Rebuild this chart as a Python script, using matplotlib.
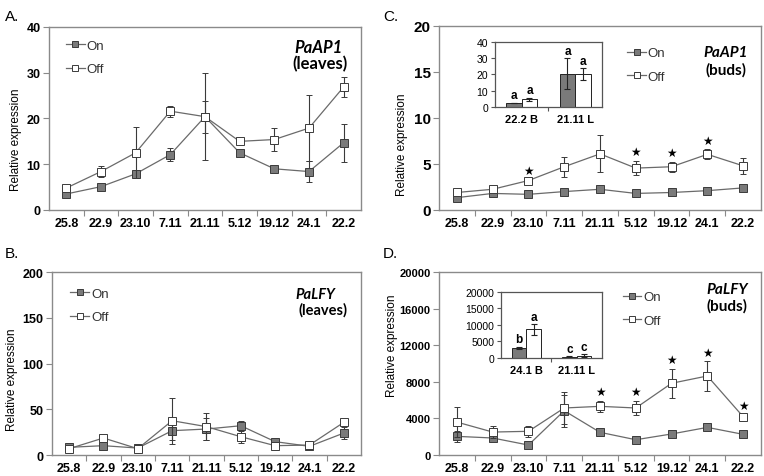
import numpy as np
import matplotlib
matplotlib.use("Agg")
import matplotlib.pyplot as plt
from matplotlib.lines import Line2D

plt.rcParams['font.family'] = ['Liberation Sans', 'DejaVu Sans']

dates = ['25.8', '22.9', '23.10', '7.11', '21.11', '5.12', '19.12', '24.1', '22.2']

# A. PaAP1 leaves
ap1_leaf_on = [3.5, 5.1, 7.9, 12.1, 20.4, 12.5, 9.0, 8.4, 14.7]
ap1_leaf_on_err = [0.3, 0.3, 0.5, 1.5, 9.5, 0.4, 0.4, 2.2, 4.2]
ap1_leaf_off = [4.8, 8.4, 12.5, 21.6, 20.4, 15.0, 15.4, 17.9, 26.9]
ap1_leaf_off_err = [0.3, 1.3, 5.6, 1.2, 3.5, 0.4, 2.6, 7.2, 2.2]

# B. PaLFY leaves
lfy_leaf_on = [8.4, 10.2, 7.6, 26.6, 28.4, 32.0, 14.6, 9.5, 24.0]
lfy_leaf_on_err = [2, 2, 1.5, 10, 12, 5.5, 2, 1.5, 7]
lfy_leaf_off = [6.9, 18.6, 6.9, 37.5, 31.0, 20.0, 10.2, 10.9, 35.7]
lfy_leaf_off_err = [1.5, 2, 1.5, 25, 14.5, 7, 2, 2, 2]

# C. PaAP1 buds
ap1_bud_on = [1.34, 1.8, 1.7, 2.0, 2.25, 1.8, 1.9, 2.1, 2.4]
ap1_bud_on_err = [0.1, 0.1, 0.1, 0.1, 0.2, 0.1, 0.1, 0.1, 0.1]
ap1_bud_off = [1.9, 2.25, 3.2, 4.7, 6.1, 4.55, 4.7, 6.05, 4.8]
ap1_bud_off_err = [0.1, 0.1, 0.1, 1.1, 2.0, 0.75, 0.55, 0.55, 0.9]
ap1_bud_stars = [2, 5, 6, 7]

# D. PaLFY buds
lfy_bud_on = [2040, 1860, 1090, 4840, 2480, 1670, 2300, 3020, 2260]
lfy_bud_on_err = [600, 150, 150, 1750, 150, 150, 200, 300, 150]
lfy_bud_off = [3600, 2510, 2590, 5140, 5320, 5140, 7840, 8640, 4190]
lfy_bud_off_err = [1670, 700, 600, 1700, 600, 800, 1600, 1600, 200]
lfy_bud_stars = [4, 5, 6, 7, 8]

# insets
inset_c_groups = ['22.2 B', '21.11 L']
inset_c_on = [2.4, 20.4]
inset_c_on_err = [0.2, 9.5]
inset_c_off = [4.8, 20.4]
inset_c_off_err = [0.9, 3.5]
inset_c_letters_on = ['a', 'a']
inset_c_letters_off = ['a', 'a']

inset_d_groups = ['24.1 B', '21.11 L']
inset_d_on = [3020, 450]
inset_d_on_err = [400, 100]
inset_d_off = [8640, 700]
inset_d_off_err = [1600, 400]
inset_d_letters_on = ['b', 'c']
inset_d_letters_off = ['a', 'c']

on_c = '#7a7a7a'
edge_c = '#3a3a3a'
line_c = '#6a6a6a'
frame_c = '#8a8a8a'

fig = plt.figure(figsize=(7.64, 4.77), dpi=100)

legend_handles = [
    Line2D([], [], color=line_c, lw=0.9, marker='s', ms=5, mfc=on_c, mec=edge_c, mew=0.7),
    Line2D([], [], color=line_c, lw=0.9, marker='s', ms=5, mfc='white', mec=edge_c, mew=0.7),
]


def panel(rect, on, on_err, off, off_err, yticks, ytick_size, legend_at, gene, cond,
          gene_xy, cond_xy, gene_size, ylab_xy, stars=None):
    ax = fig.add_axes(rect)
    x = np.arange(len(dates))
    ax.errorbar(x, on, yerr=on_err, color=line_c, lw=0.9, ecolor=edge_c, elinewidth=0.8,
                capsize=2, capthick=0.8, marker='s', ms=5.5, mfc=on_c, mec=edge_c,
                mew=0.7, zorder=3)
    ax.errorbar(x, off, yerr=off_err, color=line_c, lw=0.9, ecolor=edge_c, elinewidth=0.8,
                capsize=2, capthick=0.8, marker='s', ms=5.5, mfc='white', mec=edge_c,
                mew=0.7, zorder=4)
    if stars:
        for i in stars:
            ax.annotate('★', (i, off[i] + off_err[i]), xytext=(0, 2),
                        textcoords='offset points', ha='center', va='bottom',
                        fontsize=8.5, family=['DejaVu Sans'])
    ax.set_xlim(-0.5, len(dates) - 0.5)
    ax.set_ylim(yticks[0], yticks[-1])
    ax.set_yticks(yticks)
    ax.set_yticklabels([str(t) for t in yticks], fontsize=ytick_size, fontweight='bold')
    ax.set_xticks(np.arange(0.5, len(dates) - 1))
    ax.set_xticklabels([])
    ax.set_xticks(x, minor=True)
    ax.set_xticklabels(dates, minor=True, fontsize=9, fontweight='bold')
    ax.tick_params(axis='x', which='minor', length=0, pad=5)
    ax.tick_params(axis='x', which='major', length=4, color=frame_c)
    ax.tick_params(axis='y', length=4, color=frame_c, pad=2)
    for s in ax.spines.values():
        s.set_color(frame_c)
        s.set_linewidth(1.0)
    ax.set_ylabel('Relative expression', fontsize=8.5)
    ax.yaxis.set_label_coords(*ylab_xy)
    ax.legend(legend_handles, ['On', 'Off'], loc='upper left', bbox_to_anchor=legend_at,
              frameon=False, fontsize=9.5, handlelength=1.4, handletextpad=0.15,
              labelspacing=0.85, borderpad=0, borderaxespad=0, labelcolor='#333333')
    ax.text(gene_xy[0], gene_xy[1], gene, transform=ax.transAxes, ha='center', va='center',
            fontsize=gene_size, fontweight='bold', fontstyle='italic', family=['Lato', 'DejaVu Sans'])
    ax.text(cond_xy[0], cond_xy[1], cond, transform=ax.transAxes, ha='center', va='center',
            fontsize=gene_size, fontweight='bold', family=['Lato', 'DejaVu Sans'])
    return ax


def inset(rect, groups, on, on_err, off, off_err, lab_on, lab_off, yticks, pad):
    ax = fig.add_axes(rect)
    x = np.arange(len(groups))
    w = 0.29
    ek = dict(elinewidth=0.8, capsize=2, capthick=0.8, ecolor='#222222')
    ax.bar(x - w / 2, on, w, yerr=on_err, color=on_c, edgecolor='#222222', lw=0.7, error_kw=ek)
    ax.bar(x + w / 2, off, w, yerr=off_err, color='white', edgecolor='#222222', lw=0.7, error_kw=ek)
    for i in range(len(groups)):
        ax.text(x[i] - w / 2, on[i] + on_err[i] + pad, lab_on[i], ha='center', va='bottom',
                fontsize=8.5, fontweight='bold')
        ax.text(x[i] + w / 2, off[i] + off_err[i] + pad, lab_off[i], ha='center', va='bottom',
                fontsize=8.5, fontweight='bold')
    ax.set_xlim(-0.5, len(groups) - 0.5)
    ax.set_ylim(yticks[0], yticks[-1])
    ax.set_yticks(yticks)
    ax.set_yticklabels([str(t) for t in yticks], fontsize=7.5)
    ax.set_xticks([0.5])
    ax.set_xticklabels([])
    ax.set_xticks(x, minor=True)
    ax.set_xticklabels(groups, minor=True, fontsize=8, fontweight='bold')
    ax.tick_params(axis='x', which='minor', length=0, pad=5)
    ax.tick_params(axis='x', which='major', length=3, color='#555555')
    ax.tick_params(axis='y', length=3, color='#555555', pad=2)
    for s in ax.spines.values():
        s.set_color('#555555')
        s.set_linewidth(0.9)
    return ax


panel([0.0641, 0.5577, 0.4084, 0.3836], ap1_leaf_on, ap1_leaf_on_err, ap1_leaf_off,
      ap1_leaf_off_err, [0, 10, 20, 30, 40], 9, (0.055, 0.93), 'PaAP1', '(leaves)',
      (0.865, 0.893), (0.869, 0.803), 12, (-0.086, 0.39))
panel([0.068, 0.044, 0.4045, 0.3836], lfy_leaf_on, lfy_leaf_on_err, lfy_leaf_off,
      lfy_leaf_off_err, [0, 50, 100, 150, 200], 9, (0.06, 0.915), 'PaLFY', '(leaves)',
      (0.851, 0.88), (0.877, 0.798), 10.5, (-0.109, 0.415))
panel([0.5746, 0.5577, 0.4215, 0.3857], ap1_bud_on, ap1_bud_on_err, ap1_bud_off,
      ap1_bud_off_err, [0, 5, 10, 15, 20], 11, (0.585, 0.885), 'PaAP1', '(buds)',
      (0.89, 0.861), (0.89, 0.766), 11, (-0.095, 0.36), stars=ap1_bud_stars)
panel([0.5746, 0.044, 0.4215, 0.3836], lfy_bud_on, lfy_bud_on_err, lfy_bud_off,
      lfy_bud_off_err, [0, 4000, 8000, 12000, 16000, 20000], 8, (0.571, 0.895), 'PaLFY',
      '(buds)', (0.895, 0.905), (0.895, 0.82), 11, (-0.128, 0.6), stars=lfy_bud_stars)

inset([0.6479, 0.7736, 0.140, 0.1363], inset_c_groups, inset_c_on, inset_c_on_err,
      inset_c_off, inset_c_off_err, inset_c_letters_on, inset_c_letters_off,
      [0, 10, 20, 30, 40], 0.8)
inset([0.6558, 0.2474, 0.132, 0.1384], inset_d_groups, inset_d_on, inset_d_on_err,
      inset_d_off, inset_d_off_err, inset_d_letters_on, inset_d_letters_off,
      [0, 5000, 10000, 15000, 20000], 400)

for lab, xf, yf in [('A.', 0.006, 0.98), ('B.', 0.006, 0.482), ('C.', 0.501, 0.98), ('D.', 0.501, 0.482)]:
    fig.text(xf, yf, lab, fontsize=11, va='top', ha='left')

fig.savefig('out.png', dpi=100)
